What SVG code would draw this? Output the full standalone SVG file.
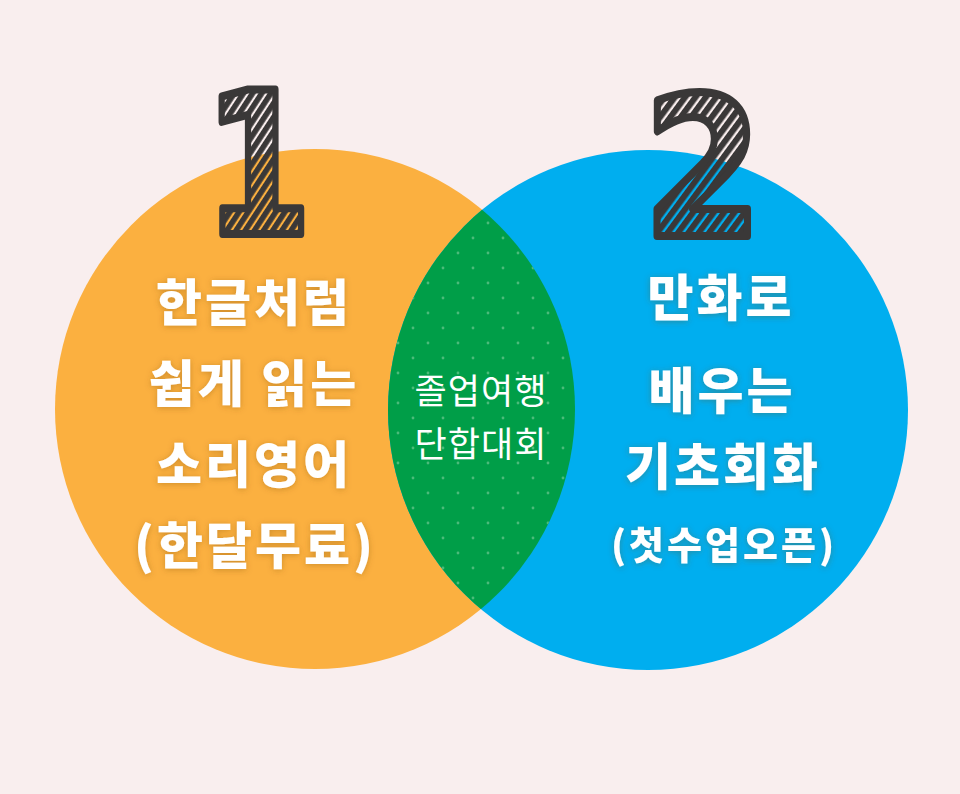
<svg xmlns="http://www.w3.org/2000/svg" width="960" height="794" viewBox="0 0 960 794">
<style>
.big{font-family:"Noto Sans CJK KR","Noto Sans",sans-serif;font-weight:900;fill:#ffffff;text-anchor:middle;filter:url(#shadow);letter-spacing:3px}
.mid{font-family:"Noto Sans CJK KR","Noto Sans",sans-serif;font-weight:400;fill:#ffffff;text-anchor:middle;font-size:35px;letter-spacing:1px}
.num{font-family:"DejaVu Sans",sans-serif;font-weight:bold;fill:url(#hatch);stroke:#3a3838;stroke-width:8;stroke-linejoin:round;text-anchor:middle}
</style>
<defs>
<filter id="shadow" x="-20%" y="-30%" width="140%" height="160%">
<feDropShadow dx="0" dy="1" stdDeviation="3" flood-color="#7a4a00" flood-opacity="0.35"/>
</filter>
<pattern id="hatch" patternUnits="userSpaceOnUse" width="9" height="9" patternTransform="rotate(40)">
<rect x="0" y="0" width="6.5" height="9" fill="#3a3838"/>
</pattern>
<pattern id="dots" patternUnits="userSpaceOnUse" x="488" y="223" width="30" height="30">
<circle cx="0" cy="0" r="1.4" fill="#4cbb7a"/>
<circle cx="30" cy="0" r="1.4" fill="#4cbb7a"/>
<circle cx="0" cy="30" r="1.4" fill="#4cbb7a"/>
<circle cx="30" cy="30" r="1.4" fill="#4cbb7a"/>
<circle cx="15" cy="15" r="1.4" fill="#4cbb7a"/>
</pattern>
<clipPath id="orangeClip"><circle cx="315" cy="409" r="260"/></clipPath>
</defs>
<rect width="960" height="794" fill="#f9eeee"/>
<g id="circle-1"><circle cx="315" cy="409" r="260" fill="#fbb040"/></g>
<g id="circle-2"><circle cx="648" cy="410" r="260" fill="#00aeef"/></g>
<g id="overlap" clip-path="url(#orangeClip)">
<circle cx="648" cy="410" r="260" fill="#009e48"/>
<circle cx="648" cy="410" r="260" fill="url(#dots)"/>
</g>
<g id="numeral-1"><text class="num" transform="translate(258,234) scale(0.78,1)" x="0" y="0" font-size="198">1</text></g>
<g id="numeral-2"><text class="num" transform="translate(703,236) scale(0.88,1)" x="0" y="0" font-size="194">2</text></g>
<g id="label-1">
<text class="big" x="254" y="321" font-size="50">한글처럼</text>
<text class="big" x="254" y="402" font-size="50">쉽게 읽는</text>
<text class="big" x="254" y="483" font-size="50">소리영어</text>
<text class="big" x="255" y="564" font-size="50">(한달무료)</text>
</g>
<g id="label-2">
<text class="big" x="721" y="316" font-size="50">만화로</text>
<text class="big" x="722" y="409" font-size="50">배우는</text>
<text class="big" x="723" y="485" font-size="50">기초회화</text>
<text class="big" x="724" y="559" font-size="38">(첫수업오픈)</text>
</g>
<g id="label-overlap">
<text class="mid" x="481" y="404">졸업여행</text>
<text class="mid" x="481" y="457">단합대회</text>
</g>
</svg>
